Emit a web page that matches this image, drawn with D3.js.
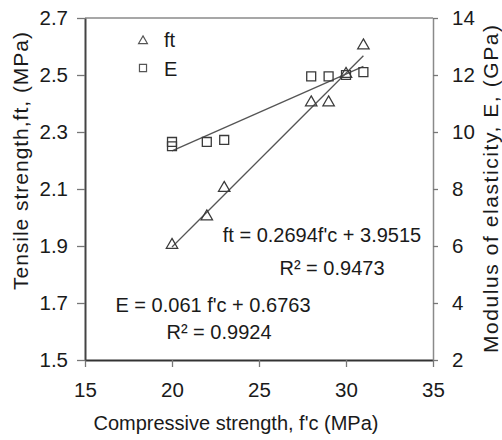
<!DOCTYPE html>
<html>
<head>
<meta charset="utf-8">
<script src="https://cdn.jsdelivr.net/npm/d3@7"></script>
<style>
  body { margin: 0; background: #fff; }
  text { font-family: "Liberation Sans", Arial, sans-serif; fill: #1a1a1a; }
</style>
</head>
<body>
<script>
// tensile strength points
var fcFt = [20, 22, 23, 28, 29, 30, 31];
var ftVals = [1.9, 2.0, 2.1, 2.4, 2.4, 2.5, 2.6];
// modulus points
var fcE = [20, 20, 22, 23, 28, 29, 30, 31];
var eVals = [9.65, 9.5, 9.65, 9.72, 11.95, 11.95, 12.0, 12.1];
// trend lines: [slope, intercept, from, to]
var trendE = [0.2694, 3.9515, 20, 31];
var trendFt = [0.061, 0.6763, 20, 31];
var xTicks = [15, 20, 25, 30, 35];
var leftTicks = [1.5, 1.7, 1.9, 2.1, 2.3, 2.5, 2.7];
var rightTicks = [2, 4, 6, 8, 10, 12, 14];

var W = 502, H = 440;
var L = 85, R = 433, T = 18, B = 360;

var svg = d3.select("body").append("svg").attr("width", W).attr("height", H);

var x = d3.scaleLinear().domain([15, 35]).range([L, R]);
var yL = d3.scaleLinear().domain([1.5, 2.7]).range([B, T]);
var yR = d3.scaleLinear().domain([2, 14]).range([B, T]);

// frame top
svg.append("line").attr("x1", L).attr("x2", R).attr("y1", T).attr("y2", T)
  .attr("stroke", "#8a8a8a").attr("stroke-width", 1.5);

var ax = svg.append("g").attr("transform", "translate(0," + B + ")")
  .call(d3.axisBottom(x).tickValues(xTicks).tickSize(7).tickSizeOuter(0).tickPadding(15).tickFormat(d3.format("d")));
var ayL = svg.append("g").attr("transform", "translate(" + L + ",0)")
  .call(d3.axisLeft(yL).tickValues(leftTicks).tickSize(8).tickSizeOuter(0).tickPadding(9).tickFormat(d3.format(".1f")));
var ayR = svg.append("g").attr("transform", "translate(" + R + ",0)")
  .call(d3.axisRight(yR).tickValues(rightTicks).tickSize(5).tickSizeOuter(0).tickPadding(14).tickFormat(d3.format("d")));

[ax, ayL, ayR].forEach(function (g) {
  g.selectAll("text").style("font-size", "20.5px").attr("fill", "#1a1a1a")
    .style("font-family", "'Liberation Sans', Arial, sans-serif");
  g.selectAll(".tick line").attr("stroke", "#777").attr("stroke-width", 1.3);
});
ax.select(".domain").attr("stroke", "#333").attr("stroke-width", 2.2);
ayL.select(".domain").attr("stroke", "#444").attr("stroke-width", 2);
ayR.select(".domain").attr("stroke", "#8a8a8a").attr("stroke-width", 1.5);

// trend lines
function trend(t, y) {
  var xs = [t[2], t[3]];
  return d3.line().x(function (d) { return x(d); }).y(function (d) { return y(t[0] * d + t[1]); })(xs);
}
svg.append("path").attr("d", trend(trendE, yR)).attr("fill", "none").attr("stroke", "#555").attr("stroke-width", 1.3);
svg.append("path").attr("d", trend(trendFt, yL)).attr("fill", "none").attr("stroke", "#555").attr("stroke-width", 1.3);

var tri = d3.symbol().type(d3.symbolTriangle).size(56);
var sq = d3.symbol().type(d3.symbolSquare).size(80);

svg.selectAll(".sq").data(fcE).enter().append("path")
  .attr("class", "sq")
  .attr("d", sq)
  .attr("transform", function (d, i) { return "translate(" + x(d) + "," + yR(eVals[i]) + ")"; })
  .attr("fill", "none").attr("stroke", "#3a3a3a").attr("stroke-width", 1.3);

svg.selectAll(".tri").data(fcFt).enter().append("path")
  .attr("class", "tri")
  .attr("d", tri)
  .attr("transform", function (d, i) { return "translate(" + x(d) + "," + (yL(ftVals[i]) - 1) + ")"; })
  .attr("fill", "none").attr("stroke", "#3a3a3a").attr("stroke-width", 1.3);

// legend
var leg = svg.append("g");
leg.append("path").attr("d", d3.symbol().type(d3.symbolTriangle).size(34)())
  .attr("transform", "translate(143,41)").attr("fill", "none").attr("stroke", "#555").attr("stroke-width", 1.2);
leg.append("path").attr("d", d3.symbol().type(d3.symbolSquare).size(50)())
  .attr("transform", "translate(143,68)").attr("fill", "none").attr("stroke", "#555").attr("stroke-width", 1.2);
leg.append("text").attr("x", 164).attr("y", 47).style("font-size", "20px").text("ft");
leg.append("text").attr("x", 164).attr("y", 76).style("font-size", "20px").text("E");

// equations
var eqs = [
  { t: "ft = 0.2694f'c + 3.9515", x: 322, y: 242 },
  { t: "R² = 0.9473", x: 332, y: 275 },
  { t: "E = 0.061 f'c + 0.6763", x: 213, y: 312 },
  { t: "R² = 0.9924", x: 219, y: 339 }
];
svg.selectAll(".eq").data(eqs).enter().append("text")
  .attr("class", "eq")
  .attr("x", function (d) { return d.x; })
  .attr("y", function (d) { return d.y; })
  .attr("text-anchor", "middle")
  .style("font-size", "20px")
  .text(function (d) { return d.t; });

// axis titles
svg.append("text").attr("x", (L + R) / 2 - 23).attr("y", 430).attr("text-anchor", "middle")
  .style("font-size", "20px").text("Compressive strength,  f'c (MPa)");
svg.append("text").attr("transform", "translate(28,161) rotate(-90)").attr("text-anchor", "middle")
  .style("font-size", "21px").attr("textLength", 258).attr("lengthAdjust", "spacing")
  .text("Tensile strength,ft,  (MPa)");
svg.append("text").attr("transform", "translate(498,189) rotate(-90)").attr("text-anchor", "middle")
  .style("font-size", "21px").attr("textLength", 328).attr("lengthAdjust", "spacing")
  .text("Modulus  of  elasticity,  E,  (GPa)");
</script>
</body>
</html>
